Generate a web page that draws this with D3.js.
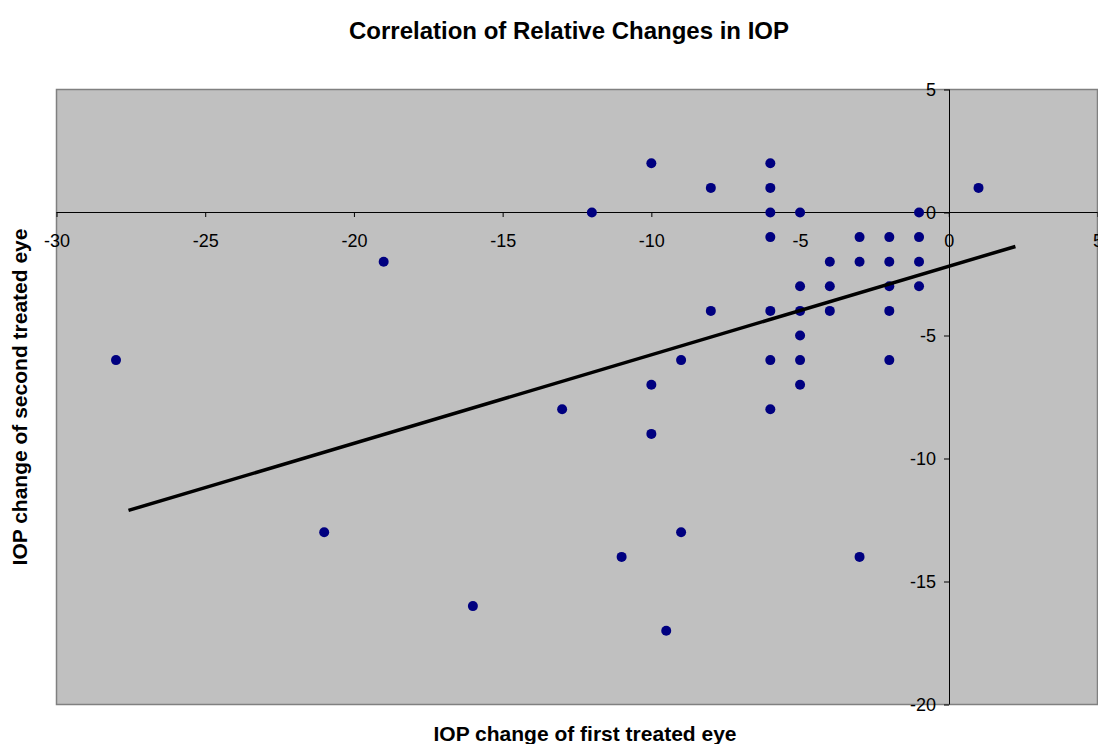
<!DOCTYPE html>
<html>
<head>
<meta charset="utf-8">
<script src="https://cdn.jsdelivr.net/npm/d3@7"></script>
<style>
  body { margin: 0; background: #fff; }
  svg { display: block; font-family: "Liberation Sans", Arial, sans-serif; }
</style>
</head>
<body>
<svg id="chart"></svg>
<script>
// data
var firstEye = [-28, -21, -19, -16, -13, -12, -11, -10, -10, -10, -9.5, -9, -9,
  -8, -8, -6, -6, -6, -6, -6, -6, -6, -5, -5, -5, -5, -5, -5,
  -4, -4, -4, -3, -3, -3, -2, -2, -2, -2, -2, -1, -1, -1, -1, 1];
var secondEye = [-6, -13, -2, -16, -8, 0, -14, 2, -7, -9, -17, -6, -13,
  1, -4, 2, 1, 0, -1, -4, -6, -8, 0, -3, -4, -5, -6, -7,
  -2, -3, -4, -1, -2, -14, -1, -2, -3, -4, -6, 0, -1, -2, -3, 1];
var trendX = [-27.58, 2.24];
var trendY = [-12.11, -1.38];
var xTicks = [-30, -25, -20, -15, -10, -5, 0, 5];
var yTicks = [5, 0, -5, -10, -15, -20];

var w = 1098, h = 744;
var plotL = 56.5, plotR = 1097.5, plotT = 89.5, plotB = 704.5;

var svg = d3.select("#chart").attr("width", w).attr("height", h);

var x = d3.scaleLinear().domain([-30, 5]).range([plotL, plotR]);
var y = d3.scaleLinear().domain([-20, 5]).range([plotB, plotT]);

// plain hyphen labels, like the original
var fmt = function(d) { return String(d); };

// plot area
svg.append("rect")
   .attr("x", plotL).attr("y", plotT)
   .attr("width", plotR - plotL).attr("height", plotB - plotT)
   .attr("fill", "#c0c0c0")
   .attr("stroke", "#808080")
   .attr("stroke-width", 1.5);

// x axis through y = 0
var xAxis = svg.append("g")
   .attr("transform", "translate(0," + Math.floor(y(0)) + ")")
   .call(d3.axisBottom(x).tickValues(xTicks).tickFormat(fmt)
     .tickSize(5).tickSizeOuter(0).tickPadding(17));

// y axis through x = 0
var yAxis = svg.append("g")
   .attr("transform", "translate(" + Math.round(x(0)) + ",0)")
   .call(d3.axisLeft(y).tickValues(yTicks).tickFormat(fmt)
     .tickSize(5).tickSizeOuter(0).tickPadding(8));

[xAxis, yAxis].forEach(function(g) {
  g.select(".domain").attr("stroke", "#000");
  g.selectAll(".tick line").attr("stroke", "#000");
  g.selectAll(".tick text")
   .attr("fill", "#000")
   .attr("font-size", "18px")
   .attr("font-family", "Liberation Sans, Arial, sans-serif");
});
xAxis.select(".domain").attr("d", "M" + plotL + ",0.5H" + plotR);
yAxis.select(".domain").attr("d", "M0.5," + plotT + "V" + plotB);
yAxis.selectAll(".tick text").attr("dy", "0.35em");

// points
svg.append("g").selectAll("circle")
   .data(firstEye)
   .enter()
   .append("circle")
   .attr("cx", function(d) { return x(d); })
   .attr("cy", function(d, i) { return y(secondEye[i]); })
   .attr("r", 5)
   .attr("fill", "#000080");

// trend line
svg.append("line")
   .attr("x1", x(trendX[0])).attr("y1", y(trendY[0]))
   .attr("x2", x(trendX[1])).attr("y2", y(trendY[1]))
   .attr("stroke", "#000")
   .attr("stroke-width", 3.5);

// titles
svg.append("text")
   .text("Correlation of Relative Changes in IOP")
   .attr("x", 569).attr("y", 39)
   .attr("text-anchor", "middle")
   .attr("font-size", "24px")
   .attr("font-weight", "bold");

svg.append("text")
   .text("IOP change of first treated eye")
   .attr("x", 585).attr("y", 741)
   .attr("text-anchor", "middle")
   .attr("font-size", "21px")
   .attr("font-weight", "bold");

svg.append("text")
   .text("IOP change of second treated eye")
   .attr("transform", "translate(27,397) rotate(-90)")
   .attr("text-anchor", "middle")
   .attr("font-size", "21px")
   .attr("font-weight", "bold");
</script>
</body>
</html>
